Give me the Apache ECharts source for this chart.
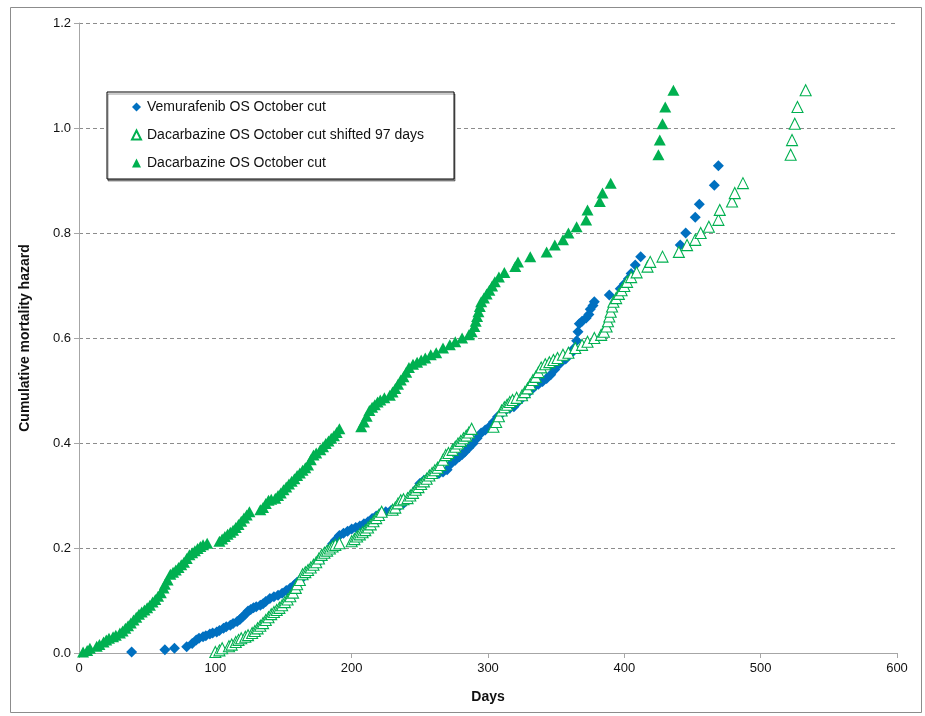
<!DOCTYPE html>
<html>
<head>
<meta charset="utf-8">
<script src="https://cdn.jsdelivr.net/npm/echarts@6/dist/echarts.min.js"></script>
<style>
html,body{margin:0;padding:0;background:#fff;}
#chart{width:925px;height:716px;}
</style>
</head>
<body>
<div id="chart"></div>
<script>
// Tick labels
const xTicks = [0, 100, 200, 300, 400, 500, 600];
const yTicks = [0.0, 0.2, 0.4, 0.6, 0.8, 1.0, 1.2];

// Vemurafenib OS October cut
const vemDays = [38.6,63,70,79,83,86,88,91,93,96,98,101,103,106,108,111,113,116,118,120,122,124,126,128,130,133,135,137,140,143,146,149,152,155,158,160,162,165,167,169,172,174,177,179,181,184,186,188,191,194,197,200,203,206,209,212,215,218,221,225,229,232,235,238,241,245,248,250,253,257,260,264,267,270,273,276,279,281,283,286,289,292,295,298,301,304,307,310,313,316,319,322,326,329,332,334,337,340,343,346,349,351,353,357,361,363,365,366,367,369,372,374,375,377,378,389,397,400,403,405,408,412,441,445,452,455,466,469];
const vemHazard = [0.002,0.006,0.009,0.012,0.018,0.025,0.028,0.031,0.033,0.036,0.038,0.040,0.043,0.047,0.050,0.053,0.056,0.060,0.064,0.069,0.074,0.080,0.083,0.086,0.088,0.091,0.094,0.098,0.104,0.107,0.110,0.114,0.119,0.124,0.130,0.135,0.139,0.146,0.152,0.158,0.164,0.170,0.177,0.184,0.191,0.200,0.208,0.215,0.224,0.228,0.232,0.236,0.239,0.242,0.246,0.250,0.256,0.261,0.266,0.269,0.272,0.274,0.280,0.285,0.292,0.304,0.314,0.323,0.329,0.336,0.339,0.342,0.345,0.349,0.361,0.367,0.374,0.378,0.383,0.391,0.399,0.409,0.419,0.425,0.431,0.440,0.450,0.456,0.463,0.466,0.469,0.478,0.488,0.495,0.502,0.507,0.512,0.517,0.523,0.530,0.540,0.548,0.552,0.560,0.571,0.580,0.595,0.612,0.627,0.632,0.638,0.645,0.655,0.662,0.669,0.682,0.694,0.703,0.713,0.723,0.739,0.755,0.777,0.800,0.830,0.855,0.891,0.928];

// Dacarbazine OS October cut
const dacDays = [3,6,8,13,15,18,20,22,25,27,30,32,34,36,38,40,42,44,46,48,50,52,54,56,58,60,62,63,65,67,69,71,73,75,77,79,81,83,85,87,89,91,94,103,105,107,109,111,113,115,117,119,121,123,125,133,135,137,139,141,144,146,148,150,152,154,156,158,160,162,164,166,168,170,172,174,177,179,181,183,185,187,189,191,207,209,211,213,215,217,219,221,224,228,230,232,234,236,238,240,242,245,248,251,254,258,262,267,272,276,281,286,288,290,291,292,293,294,295,297,299,301,303,305,308,312,320,322,331,343,349,355,359,365,372,373,382,384,390,425,426,428,430,436];
const dacHazard = [0.002,0.005,0.009,0.013,0.016,0.021,0.025,0.028,0.031,0.034,0.038,0.042,0.047,0.052,0.057,0.063,0.068,0.074,0.078,0.082,0.086,0.091,0.097,0.102,0.108,0.115,0.124,0.131,0.139,0.150,0.154,0.158,0.163,0.168,0.173,0.180,0.187,0.191,0.195,0.199,0.203,0.206,0.209,0.213,0.217,0.222,0.226,0.230,0.234,0.239,0.245,0.251,0.257,0.263,0.269,0.273,0.277,0.285,0.291,0.293,0.295,0.300,0.305,0.311,0.316,0.322,0.327,0.332,0.338,0.343,0.348,0.353,0.358,0.368,0.377,0.381,0.387,0.393,0.399,0.404,0.409,0.414,0.420,0.427,0.431,0.440,0.451,0.462,0.468,0.473,0.478,0.482,0.486,0.491,0.497,0.504,0.512,0.520,0.526,0.535,0.544,0.550,0.554,0.558,0.562,0.568,0.572,0.581,0.587,0.593,0.600,0.606,0.612,0.622,0.632,0.641,0.650,0.660,0.669,0.676,0.684,0.691,0.699,0.707,0.716,0.725,0.736,0.745,0.755,0.764,0.777,0.787,0.800,0.812,0.825,0.844,0.860,0.876,0.895,0.949,0.977,1.008,1.040,1.072];

const shiftDays = [100,103,105,110,112,115,117,119,122,124,127,129,131,133,135,137,139,141,143,145,147,149,151,153,155,157,159,160,162,164,166,168,170,172,174,176,178,180,182,184,186,188,191,200,202,204,206,208,210,212,214,216,218,220,222,230,232,234,236,238,241,243,245,247,249,251,253,255,257,259,261,263,265,267,269,271,274,276,278,280,282,284,286,288,304,306,308,310,312,314,316,318,321,325,327,329,331,333,335,337,339,342,345,348,351,355,359,364,369,373,378,383,385,387,388,389,390,391,392,394,396,398,400,402,405,409,417,419,428,440,446,452,456,462,469,470,479,481,487,522,523,525,527,533];
const shiftHazard = dacHazard;

const seriesNames = ['Vemurafenib OS October cut', 'Dacarbazine OS October cut shifted 97 days', 'Dacarbazine OS October cut'];

const pairs = (xs, ys) => xs.map((x, i) => [x, ys[i]]);

const chart = echarts.init(document.getElementById('chart'), null, {renderer: 'canvas'});
const font = 'Liberation Sans, Arial, sans-serif';
chart.setOption({
  animation: false,
  backgroundColor: '#fff',
  graphic: [{
    type: 'rect', left: 8, top: 5, silent: true, z: -10,
    shape: {width: 911, height: 705},
    style: {fill: 'none', stroke: '#8c8c8c', lineWidth: 1}
  }],
  grid: {left: 79, right: 28, top: 23, bottom: 63, containLabel: false},
  legend: {
    orient: 'vertical', left: 107, top: 92,
    data: seriesNames,
    itemWidth: 9, itemHeight: 9, itemGap: 14,
    padding: [8, 30, 9, 24],
    borderColor: '#000', borderWidth: 1, backgroundColor: '#fff',
    shadowColor: 'rgba(0,0,0,0.4)', shadowBlur: 0, shadowOffsetX: 1, shadowOffsetY: 2,
    textStyle: {fontFamily: font, fontSize: 14, color: '#111', padding: [0,0,0,1]}
  },
  xAxis: {
    type: 'value', min: 0, max: 600, interval: 100,
    name: 'Days', nameLocation: 'middle', nameGap: 37,
    nameTextStyle: {fontFamily: font, fontSize: 14, fontWeight: 'bold', color: '#111'},
    axisLine: {lineStyle: {color: '#a6a6a6', width: 1}},
    axisTick: {show: true, length: 5, lineStyle: {color: '#a6a6a6'}},
    axisLabel: {fontFamily: font, fontSize: 13, color: '#111', margin: 9,
      formatter: v => xTicks.includes(v) ? String(v) : ''},
    splitLine: {show: false}
  },
  yAxis: {
    type: 'value', min: 0, max: 1.2, interval: 0.2,
    name: 'Cumulative mortality hazard', nameLocation: 'middle', nameGap: 47,
    nameTextStyle: {fontFamily: font, fontSize: 14, fontWeight: 'bold', color: '#111'},
    axisLine: {show: true, lineStyle: {color: '#a6a6a6', width: 1}},
    axisTick: {show: true, length: 5, lineStyle: {color: '#a6a6a6'}},
    axisLabel: {fontFamily: font, fontSize: 13, color: '#111', margin: 8,
      formatter: v => yTicks.find(t => Math.abs(t - v) < 1e-9) !== undefined ? v.toFixed(1) : ''},
    splitLine: {show: true, lineStyle: {color: '#8c8c8c', type: [4, 3], width: 1}}
  },
  series: [
    {
      name: seriesNames[0], type: 'scatter', symbol: 'diamond', symbolSize: 11,
      itemStyle: {color: '#0070C0', opacity: 1},
      data: pairs(vemDays, vemHazard), z: 2
    },
    {
      name: seriesNames[1], type: 'scatter', symbol: 'triangle', symbolSize: [11, 11],
      itemStyle: {color: '#ffffff', borderColor: '#00B050', borderWidth: 1.1, opacity: 1},
      data: pairs(shiftDays, shiftHazard), z: 3
    },
    {
      name: seriesNames[2], type: 'scatter', symbol: 'triangle', symbolSize: [12, 11],
      itemStyle: {color: '#00B050', opacity: 1},
      data: pairs(dacDays, dacHazard), z: 4
    }
  ]
});
</script>
</body>
</html>
